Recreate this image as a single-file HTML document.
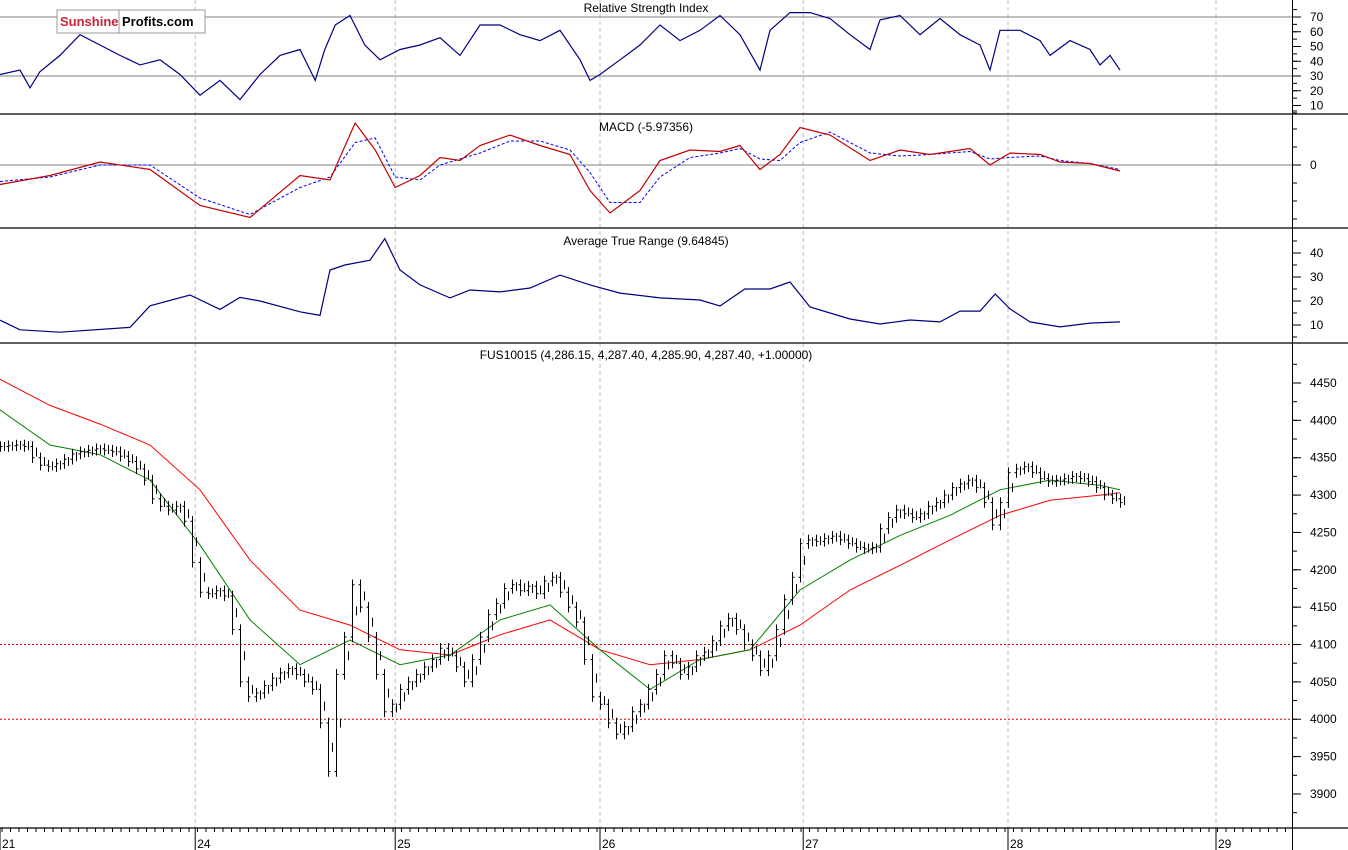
<!DOCTYPE html>
<html><head><meta charset="utf-8">
<style>
html,body{margin:0;padding:0;background:#fff;}
svg{display:block;font-family:"Liberation Sans",Arial,sans-serif;}
</style></head>
<body>
<svg id="chart" width="1348" height="850" viewBox="0 0 1348 850" xmlns="http://www.w3.org/2000/svg">
<rect x="0" y="0" width="1348" height="850" fill="#fff"/>
<g id="grid"></g>
<g id="marks"></g>
<g id="axes"></g>
<g>
<rect x="57" y="10" width="148" height="23" fill="#fff" stroke="#999"/>
<line x1="119" y1="10" x2="119" y2="33" stroke="#999"/>
<text x="60" y="26" font-size="13" font-weight="bold" fill="#c8243c">Sunshine</text>
<text x="122" y="26" font-size="13" font-weight="bold" fill="#000">Profits.com</text>
</g>
</svg>
<script>
// ---- data ----
const dayLabels = ["21","24","25","26","27","28","29"];
const dayIdx = [0, 24.4, 49.4, 75, 100.4, 126, 152];
const closes = [4365,4366,4367,4365,4350,4340,4338,4342,4348,4355,4358,4360,4362,4360,4358,4352,4345,4335,4320,4295,4285,4280,4285,4265,4210,4170,4168,4172,4165,4120,4050,4030,4035,4045,4055,4062,4068,4060,4050,4040,3995,3930,4060,4110,4180,4150,4110,4060,4010,4020,4040,4050,4060,4070,4080,4095,4085,4070,4050,4080,4110,4140,4155,4175,4180,4172,4178,4168,4185,4190,4170,4150,4130,4080,4030,4020,3995,3980,3990,4010,4020,4040,4060,4085,4075,4060,4070,4085,4090,4105,4125,4135,4120,4100,4085,4065,4085,4120,4160,4190,4235,4240,4238,4242,4245,4240,4235,4230,4228,4230,4255,4270,4280,4275,4270,4275,4285,4290,4300,4310,4315,4320,4310,4290,4260,4290,4330,4335,4338,4330,4322,4318,4320,4322,4325,4322,4318,4310,4300,4295,4290];
const maIdx = [0,6.25,12.5,18.75,25,31.25,37.5,43.75,50,56.25,62.5,68.75,75,81.25,87.5,93.75,100,106.25,112.5,118.75,125,131.25,137.5,140];
const maSlow = [4455,4420,4395,4367,4307,4213,4146,4126,4093,4086,4113,4133,4093,4073,4080,4093,4126,4173,4206,4240,4273,4293,4300,4303];
const maFast = [4414,4367,4354,4320,4233,4133,4073,4106,4073,4086,4133,4153,4093,4040,4080,4093,4173,4213,4246,4273,4307,4320,4313,4307];
const rsiIdx = [0,2.5,3.75,5,7.5,10,12.5,15,17.5,20,22.5,25,27.5,30,32.5,35,37.5,39.4,40.6,41.9,43.75,45.6,47.5,50,52.5,55,57.5,60,62.5,65,67.5,70,72.5,73.75,75,77.5,80,82.5,85,87.5,90,92.5,95,96.25,98.75,101.25,103.75,106.25,108.75,110,112.5,115,117.5,120,122.5,123.75,125,127.5,130,131.25,133.75,136.25,137.5,138.75,140];
const rsiVals = [31,34,22,33,44,58,51,44,37.5,41,31,17,27,14,31,44,48,27,48,64.6,71,51,41,48,51,56,44,64.6,64.6,58,54,61,41,27,31,41,51,64.6,54,61,71,58,34,61,73,73,69,58,48,68,71,58,69,58,51,34,61,61,54,44,54,48,37.5,44,34];
const macdIdx = [0,6.25,12.5,18.75,25,31.25,37.5,41.25,44.4,46.9,49.4,52.5,55,57.5,60,63.75,67.5,71.25,73.75,76.25,80,82.5,86.25,90,92.5,95,97.5,100,103.75,108.75,112.5,116.25,121.25,123.75,126.25,130,132.5,136.25,140];
const macdVals = [-13,-7,2,-3,-27,-35,-7,-10,28,10,-15,-7,5,3,13,20,13,7,-17,-32,-17,3,10,9,13,-3,7,25,20,3,10,7,11,0,8,7,2,1,-4];
const sigVals = [-11,-8,0,0,-22,-33,-15,-8,15,18,-8,-10,0,4,8,16,16,10,-5,-25,-25,-8,5,8,11,4,3,15,22,8,6,7,9,4,5,6,3,1,-3];
const atrIdx = [0,2.5,7.5,16.25,18.75,23.75,27.5,30,32.5,37.5,40,41.25,43.1,46.25,48.1,50,52.5,56.25,58.75,62.5,66.25,70,73.75,77.5,82.5,87.5,90,93.1,96.25,98.75,101.25,106.25,110,113.75,117.5,120,122.5,124.4,126.25,128.75,132.5,136.25,140];
const atrVals = [12,8,7,9,18,22.5,16.5,21.5,20,15.5,14,32.9,35,37,46,32.9,26.7,21.3,24.6,23.8,25.4,30.8,26.7,23.3,21.3,20.4,17.9,25,25,27.9,17.5,12.5,10.4,12.1,11.3,15.8,15.8,22.9,16.7,11.3,9.2,10.8,11.3];
const priceTicks = [4450,4400,4350,4300,4250,4200,4150,4100,4050,4000,3950,3900];
const rsiTicks = [70,60,50,40,30,20,10];
const atrTicks = [40,30,20,10];
const refLevels = [4100,4000];

// ---- scales ----
const X = i => i*8;
const PY = v => 383 + (4450 - v)/50*37.36;
const RY = v => 17 + (70 - v)*1.475;
const MY = v => 165 - v*1.5;
const AY = v => 253 + (40 - v)*2.4;
const NS = "http://www.w3.org/2000/svg";
const grid = document.getElementById('grid'), marks = document.getElementById('marks'), axes = document.getElementById('axes');
function mk(tag, attrs, parent){const e=document.createElementNS(NS,tag);for(const k in attrs)e.setAttribute(k,attrs[k]);parent.appendChild(e);return e;}
function linePath(idx, vals, f){return idx.map((d,i)=>(i?'L':'M')+X(d).toFixed(1)+','+f(vals[i]).toFixed(1)).join('');}

dayIdx.forEach((d,i)=>{
  if(i===0) return;
  const g = mk('line',{x1:X(d),x2:X(d),y1:0,y2:828,stroke:'#bbb','stroke-dasharray':'4,3'},grid);
  
  
});
[[RY(70)],[RY(30)],[MY(0)]].forEach(a=>{
  const l = mk('line',{x1:0,x2:1292,y1:a[0],y2:a[0],stroke:'#808080'},grid);
  
  
});
refLevels.forEach(v=>{
  const l = mk('line',{x1:0,x2:1292,y1:PY(v),y2:PY(v),stroke:'#d00','stroke-dasharray':'2,2'},grid);
  
  
});

let p = mk('path',{d:linePath(rsiIdx,rsiVals,RY),fill:'none',stroke:'#000080','stroke-width':1.2},marks);


p = mk('path',{d:linePath(macdIdx,sigVals,MY),fill:'none',stroke:'#0000ff','stroke-dasharray':'3,2'},marks);


p = mk('path',{d:linePath(macdIdx,macdVals,MY),fill:'none',stroke:'#c00000','stroke-width':1.2},marks);


p = mk('path',{d:linePath(atrIdx,atrVals,AY),fill:'none',stroke:'#000080','stroke-width':1.2},marks);


p = mk('path',{d:linePath(maIdx,maSlow,PY),fill:'none',stroke:'#f00'},marks);


p = mk('path',{d:linePath(maIdx,maFast,PY),fill:'none',stroke:'#008000'},marks);


closes.forEach((c,i)=>{
  const prev = i? closes[i-1] : c;
  const hi = Math.max(prev,c)+7, lo = Math.min(prev,c)-7;
  const g = mk('g',{stroke:'#000'},marks);
  
  
  const x = X(i)+0.5;
  mk('line',{x1:x,x2:x,y1:PY(hi),y2:PY(lo)},g);
  mk('line',{x1:x-2,x2:x,y1:PY(prev),y2:PY(prev)},g);
  mk('line',{x1:x,x2:x+2,y1:PY(c),y2:PY(c)},g);
  const xm = x+4, mid=(prev+c)/2;
  mk('line',{x1:xm,x2:xm,y1:PY(mid+6),y2:PY(mid-6)},g);
});

[114,228,343,828].forEach(y=>{
  const l = mk('line',{x1:0,x2:1348,y1:y,y2:y,stroke:'#000','stroke-width':1.3},axes);
  
  
});
mk('line',{x1:1292.5,x2:1292.5,y1:0,y2:850,stroke:'#000'},axes);
function yTicks(vals,f,name){
  vals.forEach(v=>{
    const y=f(v);
    mk('line',{x1:1292,x2:1301,y1:y,y2:y,stroke:'#000'},axes);
    const t = mk('text',{x:1310,y:y+4,'font-size':12,fill:'#000'},axes);
    t.textContent=v;
    
    
  });
}
yTicks(priceTicks,PY,'price');
yTicks(rsiTicks,RY,'rsi');
yTicks(atrTicks,AY,'atr');
yTicks([0],MY,'macd');
for(let v=3875; v<=4475; v+=25) mk('line',{x1:1292,x2:1297,y1:PY(v),y2:PY(v),stroke:'#000'},axes);
for(let v=5; v<=75; v+=5) mk('line',{x1:1292,x2:1297,y1:RY(v),y2:RY(v),stroke:'#000'},axes);
for(let v=-30; v<=30; v+=10) mk('line',{x1:1292,x2:1297,y1:MY(v*1.2),y2:MY(v*1.2),stroke:'#000'},axes);
for(let v=5; v<=45; v+=5) mk('line',{x1:1292,x2:1297,y1:AY(v),y2:AY(v),stroke:'#000'},axes);
for(let x=2; x<1292; x+=8.5) mk('line',{x1:x,x2:x,y1:828,y2:832,stroke:'#000'},axes);
dayIdx.forEach((d,i)=>{
  const x=X(d);
  mk('line',{x1:x,x2:x,y1:828,y2:850,stroke:'#000'},axes);
  const t = mk('text',{x:x+2,y:848,'font-size':12,fill:'#000'},axes);
  t.textContent=dayLabels[i];
  
  
});
[["Relative Strength Index",12,"rsi-title"],["MACD (-5.97356)",131,"macd-title"],["Average True Range (9.64845)",245,"atr-title"],["FUS10015 (4,286.15, 4,287.40, 4,285.90, 4,287.40, +1.00000)",359,"price-title"]].forEach(a=>{
  const t = mk('text',{x:646,y:a[1],'font-size':12,'text-anchor':'middle',fill:'#000'},axes);
  t.textContent=a[0];
  
  
});
</script>
</body></html>
